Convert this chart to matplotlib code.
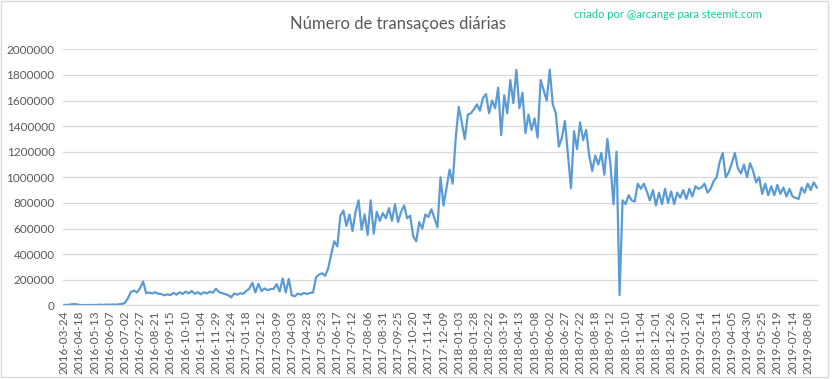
import numpy as np
import matplotlib
matplotlib.use("Agg")
import matplotlib.pyplot as plt
from matplotlib.patches import Rectangle

# Daily transactions (thousands), one value every 5 categories (days in the series)
step = 5
values_k = [
    3, 3, 6, 9, 8, 3, 2, 2, 2, 3, 2, 3, 5, 3, 6, 4, 7, 5, 8, 10,
    20, 55, 105, 115, 100, 135, 185, 95, 100, 92, 102, 90, 88, 78, 85, 80, 97, 83, 102, 88,
    107, 93, 112, 90, 102, 86, 102, 93, 107, 98, 130, 103, 95, 88, 80, 62, 92, 83, 94, 90,
    112, 130, 175, 100, 168, 112, 132, 118, 127, 128, 165, 108, 210, 100, 205, 78, 70, 92, 83, 97,
    88, 97, 100, 220, 240, 250, 230, 290, 400, 500, 460, 700, 740, 620, 710, 580, 730, 820, 590, 710,
    550, 820, 560, 730, 660, 720, 680, 760, 660, 790, 650, 730, 780, 680, 700, 540, 500, 650, 600, 710,
    690, 750, 680, 610, 1000, 780, 920, 1060, 950, 1300, 1550, 1430, 1300, 1490, 1500, 1530, 1570, 1520, 1620, 1650,
    1500, 1600, 1540, 1700, 1330, 1640, 1500, 1760, 1580, 1840, 1540, 1660, 1345, 1490, 1370, 1460, 1310, 1760, 1680, 1600,
    1840, 1570, 1500, 1240, 1310, 1440, 1180, 914, 1360, 1220, 1430, 1290, 1370, 1170, 1050, 1170, 1100, 1190, 1020, 1300,
    1100, 790, 1200, 80, 820, 790, 860, 820, 810, 950, 910, 950, 890, 820, 900, 780, 880, 790, 910, 800,
    890, 790, 880, 840, 900, 830, 910, 850, 930, 910, 920, 950, 880, 910, 970, 1000, 1120, 1190, 1000, 1040,
    1110, 1190, 1070, 1030, 1100, 1000, 1110, 1050, 960, 1000, 870, 950, 860, 930, 860, 940, 870, 920, 850, 910,
    850, 840, 830, 920, 880, 950, 900, 960, 920,
]

tick_labels = [
    "2016-03-24", "2016-04-18", "2016-05-13", "2016-06-07", "2016-07-02", "2016-07-27",
    "2016-08-21", "2016-09-15", "2016-10-10", "2016-11-04", "2016-11-29", "2016-12-24",
    "2017-01-18", "2017-02-12", "2017-03-09", "2017-04-03", "2017-04-28", "2017-05-23",
    "2017-06-17", "2017-07-12", "2017-08-06", "2017-08-31", "2017-09-25", "2017-10-20",
    "2017-11-14", "2017-12-09", "2018-01-03", "2018-01-28", "2018-02-22", "2018-03-19",
    "2018-04-13", "2018-05-08", "2018-06-02", "2018-06-27", "2018-07-22", "2018-08-18",
    "2018-09-12", "2018-10-10", "2018-11-04", "2018-12-01", "2018-12-26", "2019-01-20",
    "2019-02-14", "2019-03-11", "2019-04-05", "2019-04-30", "2019-05-25", "2019-06-19",
    "2019-07-14", "2019-08-08",
]
tick_every = 25
y_ticks = [0, 200000, 400000, 600000, 800000, 1000000, 1200000, 1400000, 1600000, 1800000, 2000000]

plt.rcParams['font.family'] = ['Lato', 'DejaVu Sans']

x = np.arange(len(values_k)) * step
y = np.array(values_k) * 1000

fig = plt.figure(figsize=(8.33, 3.79), dpi=100)
ax = fig.add_axes([63/833, 1-305.3/379, (818-63)/833, (305.3-49.3)/379])

ax.plot(x, y, color="#5b9bd5", lw=1.6, solid_joinstyle="round")
ax.set_ylim(0, 2000000)
ax.set_xlim(-2, 1242)
ax.set_yticks(y_ticks)
ax.set_yticklabels([str(v) for v in y_ticks])
ax.set_xticks(np.arange(len(tick_labels)) * tick_every)
ax.set_xticklabels(tick_labels, rotation=90)
ax.grid(axis="y", color="#d9d9d9", lw=0.9)
ax.set_axisbelow(True)
for s in ["top", "right", "left"]:
    ax.spines[s].set_visible(False)
ax.spines["bottom"].set_color("#d9d9d9")
ax.tick_params(axis="both", length=0, colors="#595959", labelsize=8.5)
ax.tick_params(axis="x", pad=4)
ax.tick_params(axis="y", pad=6)

fig.text(398/833, 1-24/379, "Número de transaçoes diárias", ha="center", va="center",
         fontsize=12, color="#595959")
fig.text(762/833, 1-15/379, "criado por @arcange para steemit.com", ha="right", va="center",
         fontsize=8, color="#1cc9a0")

fig.patches.append(Rectangle((1/833, 2/379), 827/833, 376/379, transform=fig.transFigure,
                             fill=False, edgecolor="#d9d9d9", lw=1))

fig.savefig("out.png", dpi=100, facecolor="white")
